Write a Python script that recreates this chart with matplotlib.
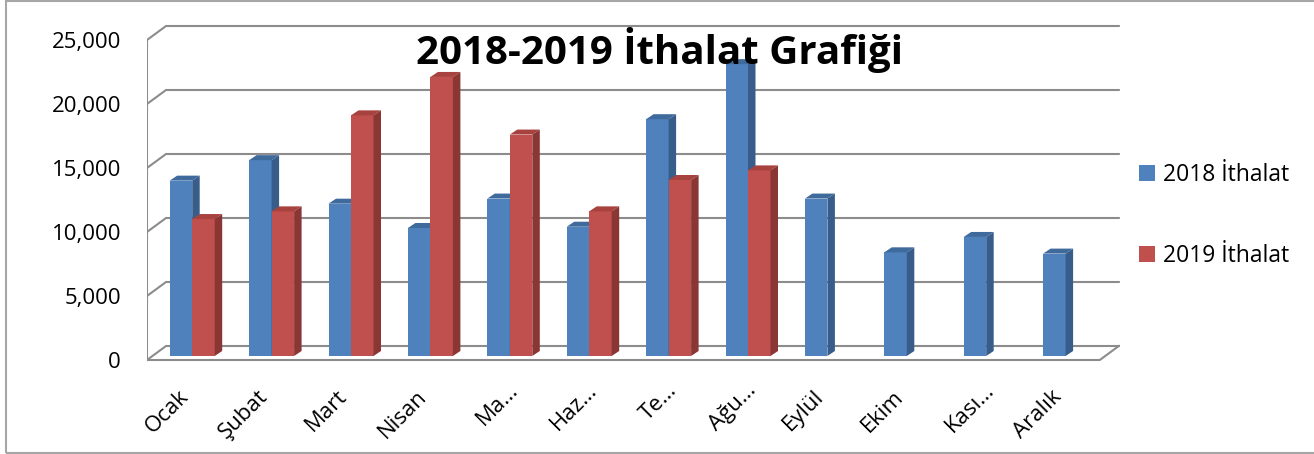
import numpy as np
import matplotlib.pyplot as plt
from matplotlib.patches import Polygon, Rectangle

plt.rcParams['font.family'] = ['Open Sans', 'DejaVu Sans']

aylar = ["Ocak", "Şubat", "Mart", "Nisan", "Ma…", "Haz…", "Te…", "Ağu…",
         "Eylül", "Ekim", "Kası…", "Aralık"]
ithalat_2018 = [13700, 15300, 11900, 10000, 12300, 10100, 18500, 22800,
                12300, 8100, 9300, 8000]
ithalat_2019 = [10700, 11300, 18800, 21800, 17300, 11300, 13750, 14500]
seri_adlari = ["2018 İthalat", "2019 İthalat"]
y_ticks = [0, 5000, 10000, 15000, 20000, 25000]

W, H = 1314, 454
X0, Y0 = 147, 360        # front-left floor corner in px
CAT_PX = 79.4            # px per category
VAL_PX = 12.8 / 1000     # px per value unit


def dxp(p):
    return p / CAT_PX


def dyp(p):
    return p / VAL_PX


blue, blue_side, blue_top = '#4F81BD', '#385D8A', '#3F6A9C'
red, red_side, red_top = '#C0504D', '#8A3634', '#A8423F'
grid_c = '#8c8c8c'

fig = plt.figure(figsize=(W / 100, H / 100), dpi=100)
left, right, top, bottom = 147, 1125, 15, 365
ax = fig.add_axes([left / W, 1 - bottom / H, (right - left) / W, (bottom - top) / H])
ax.set_xlim(0, dxp(right - X0))
ax.set_ylim(-dyp(bottom - Y0), dyp(Y0 - top))
ax.patch.set_visible(False)
for s in ax.spines.values():
    s.set_visible(False)

n = len(aylar)
# walls / floor
wdx, wdy = dxp(19), dyp(14)
for v in y_ticks:
    ax.plot([0, wdx, n + wdx], [v, v + wdy, v + wdy], color=grid_c, lw=1.5, zorder=1)
ax.plot([0, 0], [0, y_ticks[-1]], color=grid_c, lw=1.5, zorder=1)
ax.plot([0, n, n + wdx], [0, 0, wdy], color=grid_c, lw=1.5, zorder=1)

# bars (front faces + fake depth)
bw = dxp(22.5)
bdx, bdy = dxp(5.5), dyp(4)
ddx, ddy = dxp(7.5), dyp(5)


def bar3d(x_left, vals, c_front, c_top, c_side, z):
    cont = ax.bar(x_left, vals, width=bw, bottom=bdy, align='edge',
                  color=c_front, lw=0, zorder=z)
    for l, h in zip(x_left, vals):
        t = bdy + h
        ax.add_patch(Polygon([(l, t), (l + bw, t), (l + bw + ddx, t + ddy), (l + ddx, t + ddy)],
                             closed=True, fc=c_top, lw=0, zorder=z + 0.05))
        ax.add_patch(Polygon([(l + bw, bdy), (l + bw + ddx, bdy + ddy), (l + bw + ddx, t + ddy), (l + bw, t)],
                             closed=True, fc=c_side, lw=0, zorder=z + 0.05))
    return cont


x = np.arange(n)
b1 = bar3d(x + 0.5 - bw + bdx, ithalat_2018, blue, blue_top, blue_side, 2)
x2 = np.arange(len(ithalat_2019))
b2 = bar3d(x2 + 0.5 + bdx, ithalat_2019, red, red_top, red_side, 2.2)

# axis labels
ax.set_yticks(y_ticks, [f"{v:,}" for v in y_ticks])
ax.tick_params(axis='y', length=0, pad=18.7, labelsize=16)
ax.set_xticks([])
for i, lab in enumerate(aylar):
    kisa = lab.endswith("…")
    ox = 6 + (12 if kisa else 0)
    oy = 26 - (6 if kisa else 0)
    ax.text(i + 0.5 + dxp(ox), -dyp(oy), lab, rotation=45, ha='right', va='top',
            fontsize=16, clip_on=False)

fig.legend([b1, b2], seri_adlari, loc='upper left', bbox_to_anchor=(1139 / W, 1 - 163 / H),
           frameon=False, fontsize=16.5, handlelength=0.68, handleheight=0.68,
           handletextpad=0.35, labelspacing=2.5, borderpad=0, borderaxespad=0)

fig.text(660 / W, 1 - 50 / H, "2018-2019 İthalat Grafiği", ha='center', va='center',
         fontsize=29, fontweight='bold', zorder=5)

fig.add_artist(Rectangle((6 / W, 1 - 452.5 / H), 1, 451.5 / H, transform=fig.transFigure,
                         fill=False, ec='#a6a6a6', lw=1.5))

fig.savefig('out.png', dpi=100)
